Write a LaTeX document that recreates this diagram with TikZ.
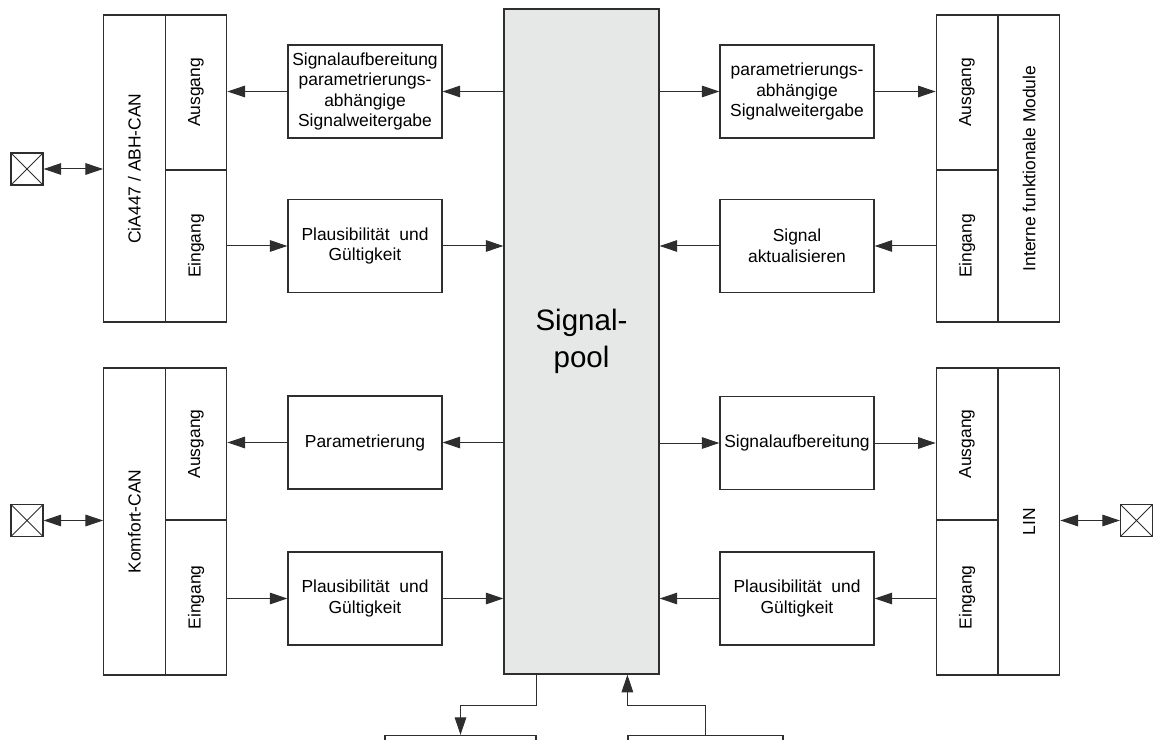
\documentclass[tikz,border=0pt]{standalone}
\usepackage{fontspec}
\setmainfont{Liberation Sans}
\usetikzlibrary{arrows.meta}
\definecolor{poolgrau}{HTML}{E6E7E7}
\definecolor{linie}{HTML}{2E2E2E}

\begin{document}
\begin{tikzpicture}[x=0.025cm,y=-0.025cm,
    font=\fontsize{12.4}{14.6}\selectfont,
    kasten/.style={draw=linie,line width=0.3mm,minimum width=3.85cm,minimum height=2.325cm,align=center,inner sep=1pt},
    zelle/.style={draw=linie,line width=0.3mm,minimum width=1.54cm,inner sep=0pt},
    pfeil/.style={-{Triangle[length=4.4mm,width=2.9mm]},line width=0.25mm,draw=linie},
    doppelpfeil/.style={{Triangle[length=4.4mm,width=2.9mm]}-{Triangle[length=4.4mm,width=2.9mm]},line width=0.25mm,draw=linie},
    stecker/.style={draw=linie,line width=0.3mm,minimum size=0.8cm,inner sep=0pt,
      path picture={\draw[line width=0.25mm] (path picture bounding box.south west) -- (path picture bounding box.north east)
        (path picture bounding box.north west) -- (path picture bounding box.south east);}}]
  \useasboundingbox (0,0) rectangle (1155,740);
  \clip (0,0) rectangle (1155,740);

  % Signalpool
  \node[draw=linie,line width=0.3mm,fill=poolgrau,minimum width=3.875cm,minimum height=16.625cm,
    font=\fontsize{21}{26}\selectfont,align=center] (pool) at (581.5,341.5) {Signal-\\pool};

  % Busse links
  \node[zelle,minimum height=7.675cm] (bus1) at (134.5,168.5) {\rotatebox{90}{CiA447 / ABH-CAN}};
  \node[zelle,minimum height=3.875cm] (aus1) at (196,92.5) {\rotatebox{90}{Ausgang}};
  \node[zelle,minimum height=3.8cm] (ein1) at (196,246) {\rotatebox{90}{Eingang}};
  \node[zelle,minimum height=7.675cm] (bus2) at (134.5,521.5) {\rotatebox{90}{Komfort-CAN}};
  \node[zelle,minimum height=3.8cm] (aus2) at (196,444) {\rotatebox{90}{Ausgang}};
  \node[zelle,minimum height=3.875cm] (ein2) at (196,597.5) {\rotatebox{90}{Eingang}};

  % Module und LIN rechts
  \node[zelle,minimum height=7.675cm] (bus3) at (1029,168.5) {\rotatebox{90}{Interne funktionale Module}};
  \node[zelle,minimum height=3.875cm] (aus3) at (967,92.5) {\rotatebox{90}{Ausgang}};
  \node[zelle,minimum height=3.8cm] (ein3) at (967,246) {\rotatebox{90}{Eingang}};
  \node[zelle,minimum height=7.675cm] (bus4) at (1029,521.5) {\rotatebox{90}{LIN}};
  \node[zelle,minimum height=3.8cm] (aus4) at (967,444) {\rotatebox{90}{Ausgang}};
  \node[zelle,minimum height=3.875cm] (ein4) at (967,597.5) {\rotatebox{90}{Eingang}};

  % Verarbeitung
  \node[kasten] (ab1) at (365,91.5) {Signalaufbereitung\\parametrierungs-\\abhängige\\Signalweitergabe};
  \node[kasten] (pl1) at (365,246) {Plausibilität\ \ und\\Gültigkeit};
  \node[kasten] (pa1) at (365,442.5) {Parametrierung};
  \node[kasten] (pl2) at (365,598.5) {Plausibilität\ \ und\\Gültigkeit};
  \node[kasten] (sw1) at (797,91.5) {parametrierungs-\\abhängige\\Signalweitergabe};
  \node[kasten] (ak1) at (797,246) {Signal\\aktualisieren};
  \node[kasten] (sa1) at (797,443) {Signalaufbereitung};
  \node[kasten] (pl3) at (797,598.5) {Plausibilität\ \ und\\Gültigkeit};

  % Kaesten unten
  \node[kasten,minimum width=3.775cm] (ub1) at (460.5,782) {};
  \node[kasten,minimum width=3.875cm] (ub2) at (705.5,782) {};
  \coordinate (knick) at (0,705);

  % Stecker
  \node[stecker] (st1) at (27,169) {};
  \node[stecker] (st2) at (27,520.5) {};
  \node[stecker] (st3) at (1136.5,520.5) {};

  % Pfeile links
  \draw[pfeil] (pool.west |- ab1.east) -- (ab1.east);
  \draw[pfeil] (ab1.west) -- (aus1.east |- ab1.west);
  \draw[pfeil] (ein1.east |- pl1.west) -- (pl1.west);
  \draw[pfeil] (pl1.east) -- (pool.west |- pl1.east);
  \draw[pfeil] (pool.west |- pa1.east) -- (pa1.east);
  \draw[pfeil] (pa1.west) -- (aus2.east |- pa1.west);
  \draw[pfeil] (ein2.east |- pl2.west) -- (pl2.west);
  \draw[pfeil] (pl2.east) -- (pool.west |- pl2.east);

  % Pfeile rechts
  \draw[pfeil] (pool.east |- sw1.west) -- (sw1.west);
  \draw[pfeil] (sw1.east) -- (aus3.west |- sw1.east);
  \draw[pfeil] (ein3.west |- ak1.east) -- (ak1.east);
  \draw[pfeil] (ak1.west) -- (pool.east |- ak1.west);
  \draw[pfeil] (pool.east |- sa1.west) -- (sa1.west);
  \draw[pfeil] (sa1.east) -- (aus4.west |- sa1.east);
  \draw[pfeil] (ein4.west |- pl3.east) -- (pl3.east);
  \draw[pfeil] (pl3.west) -- (pool.east |- pl3.west);

  % Pfeile unten
  \draw[pfeil] (pool.south -| ub1.east) -- (ub1.east |- knick) -| (ub1.north);
  \draw[pfeil] (ub2.north) |- (knick -| ub2.west) -- (ub2.west |- pool.south);

  % Stecker und Busse
  \draw[doppelpfeil] (st1.east) -- (bus1.west |- st1.east);
  \draw[doppelpfeil] (st2.east) -- (bus2.west |- st2.east);
  \draw[doppelpfeil] (bus4.east |- st3.west) -- (st3.west);
\end{tikzpicture}
\end{document}
